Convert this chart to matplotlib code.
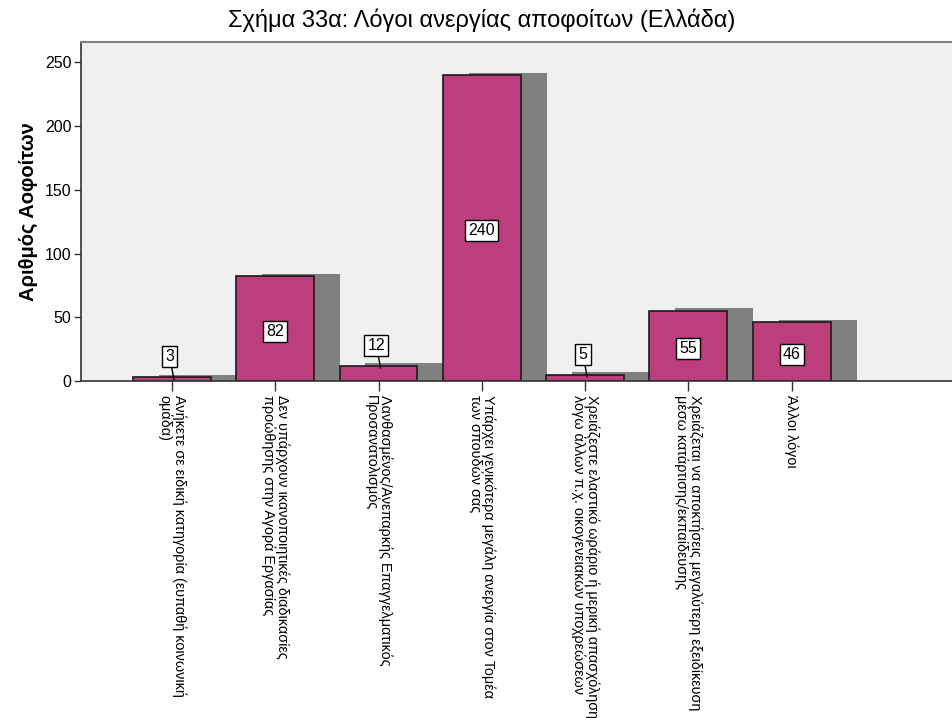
import matplotlib
matplotlib.use("Agg")
import matplotlib.pyplot as plt

# data
categories = [
    "Ανήκετε σε ειδική κατηγορία (ευπαθή κοινωνική\nομάδα)",
    "Δεν υπάρχουν ικανοποιητικές διαδικασίες\nπροώθησης στην Αγορά Εργασίας",
    "Λανθασμένος/Ανεπαρκής Επαγγελματικός\nΠροσανατολισμός",
    "Υπάρχει γενικότερα μεγάλη ανεργία στον Τομέα\nτων σπουδών σας",
    "Χρειάζεστε ελαστικό ωράριο ή μερική απασχόληση\nλόγω άλλων π.χ. οικογενειακών υποχρεώσεων",
    "Χρειάζεται να αποκτήσεις μεγαλύτερη εξειδίκευση\nμέσω κατάρτισης/εκπαίδευσης",
    "Άλλοι λόγοι",
]
values = [3, 82, 12, 240, 5, 55, 46]

plt.rcParams['font.family'] = ['Liberation Sans', 'DejaVu Sans']

fig = plt.figure(figsize=(9.53, 7.18), dpi=100)
ax = fig.add_axes([0.085, 0.4694, 0.93, 0.4721])
ax.set_facecolor('#F0F0F0')

x = list(range(len(values)))
w = 0.755

# stínové sloupce (šedé, posunuté doprava)
ax.bar([i + 0.25 for i in x], [v + 2 for v in values], width=w,
       color='#808080', zorder=1)
# hlavní sloupce
ax.bar(x, values, width=w, color='#BC3E7C', edgecolor='#1a1a1a',
       linewidth=1.2, zorder=2)

box = dict(boxstyle='square,pad=0.2', facecolor='white', edgecolor='black', linewidth=1)
for i, v in zip(x, values):
    if v < 15:
        ax.annotate(str(v), xy=(i + 0.02, v - 2), xytext=(i - 0.02, v + 16), ha='center', va='center',
                    fontsize=11.5, bbox=box, zorder=4,
                    arrowprops=dict(arrowstyle='-', color='black', lw=1, shrinkA=0, shrinkB=0))
    else:
        ax.text(i, v / 2 - 2, str(v), ha='center', va='center', fontsize=11.5,
                bbox=box, zorder=4)

ax.set_xlim(-0.88, 7.70)
ax.set_ylim(0, 266)
ax.set_yticks([0, 50, 100, 150, 200, 250])
ax.tick_params(axis='y', labelsize=11.5, length=5, width=1, color='#333333', pad=2)
ax.set_xticks(x)
ax.set_xticklabels(categories, rotation=-90, rotation_mode='anchor',
                   ha='left', va='center', fontsize=10.4, linespacing=0.95)
ax.tick_params(axis='x', length=7, width=1, color='#333333', pad=3)

ax.spines['right'].set_visible(False)
ax.spines['top'].set_color('#808080')
ax.spines['top'].set_linewidth(1.5)
ax.spines['left'].set_color('#333333')
ax.spines['left'].set_linewidth(1.2)
ax.spines['bottom'].set_color('#333333')
ax.spines['bottom'].set_linewidth(1.2)

ax.set_ylabel("Αριθμός Αοφοίτων", fontsize=14.5, fontweight='bold', labelpad=5)
fig.text(0.505, 0.972, "Σχήμα 33α: Λόγοι ανεργίας αποφοίτων (Ελλάδα)",
         ha='center', va='center', fontsize=17)

fig.savefig("out.png", dpi=100, facecolor='white')
